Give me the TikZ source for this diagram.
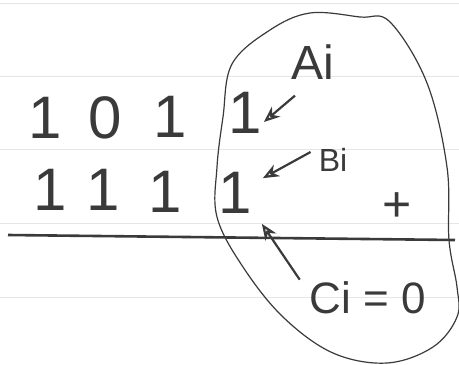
\documentclass[tikz,border=0pt]{standalone}
\usepackage{fontspec}
\setmainfont{Liberation Sans}
\usetikzlibrary{arrows.meta}
\definecolor{pencil}{HTML}{3A3A3A}
\definecolor{ruling}{HTML}{E4E6E8}

\begin{document}
\begin{tikzpicture}[x=1pt,y=-1pt,text=pencil,
  digit/.style={inner sep=0pt,font=\fontsize{60}{60}\selectfont},
  tag/.style={inner sep=0pt,font=\fontsize{#1}{#1}\selectfont},
  pointer/.style={-{Stealth[open,length=16pt,width=13pt,inset=5pt]},pencil,line width=2.2pt}]
  \useasboundingbox (0,0) rectangle (459,365);
  % notebook ruling
  \foreach \y in {3,76,149,223,297}
    \draw[ruling,line width=1pt] (0,\y)--(459,\y);
  % the two numbers
  \node[digit] (a1) at (45,118) {1};
  \node[digit] (a2) at (105,118) {0};
  \node[digit] (a3) at (170,117) {1};
  \node[digit] (a4) at (245,113) {1};
  \node[digit] (b1) at (50,190) {1};
  \node[digit] (b2) at (103,190) {1};
  \node[digit] (b3) at (165,192) {1};
  \node[digit] (b4) at (235,193) {1};
  \node[tag=50] (plus) at (397,207) {+};
  \coordinate (ruleL) at (8,235);
  \coordinate (ruleR) at (455,240);
  \draw[pencil,line width=2.6pt] (ruleL)--(ruleR);
  % labels for bit i
  \node[tag=48] (Ai) at (313,62) {Ai};
  \node[tag=32] (Bi) at (333,160) {Bi};
  \node[tag=44] (Ci) at (368,298) {Ci = 0};
  \draw[pointer] ([xshift=-18pt,yshift=-16pt]Ai.south) -- ([xshift=2pt,yshift=-9pt]a4.east);
  \draw[pointer] ([xshift=-8pt,yshift=8pt]Bi.west) -- ([xshift=11pt,yshift=-6pt]b4.north east);
  \draw[pointer] ([xshift=-10pt,yshift=2pt]Ci.north west) -- ([xshift=10pt,yshift=-10pt]b4.south east);
  % loop round the column
  \draw[pencil,line width=1.2pt] plot[smooth cycle,tension=.6] coordinates
    {(232,64) (270,30) (310,13) (360,17) (390,22) (427,83) (447,167) (449,240)
     (457,287) (457,317) (433,347) (387,363) (333,353) (283,317) (243,267)
     (217,217) (217,167) (223,117)};
\end{tikzpicture}
\end{document}
